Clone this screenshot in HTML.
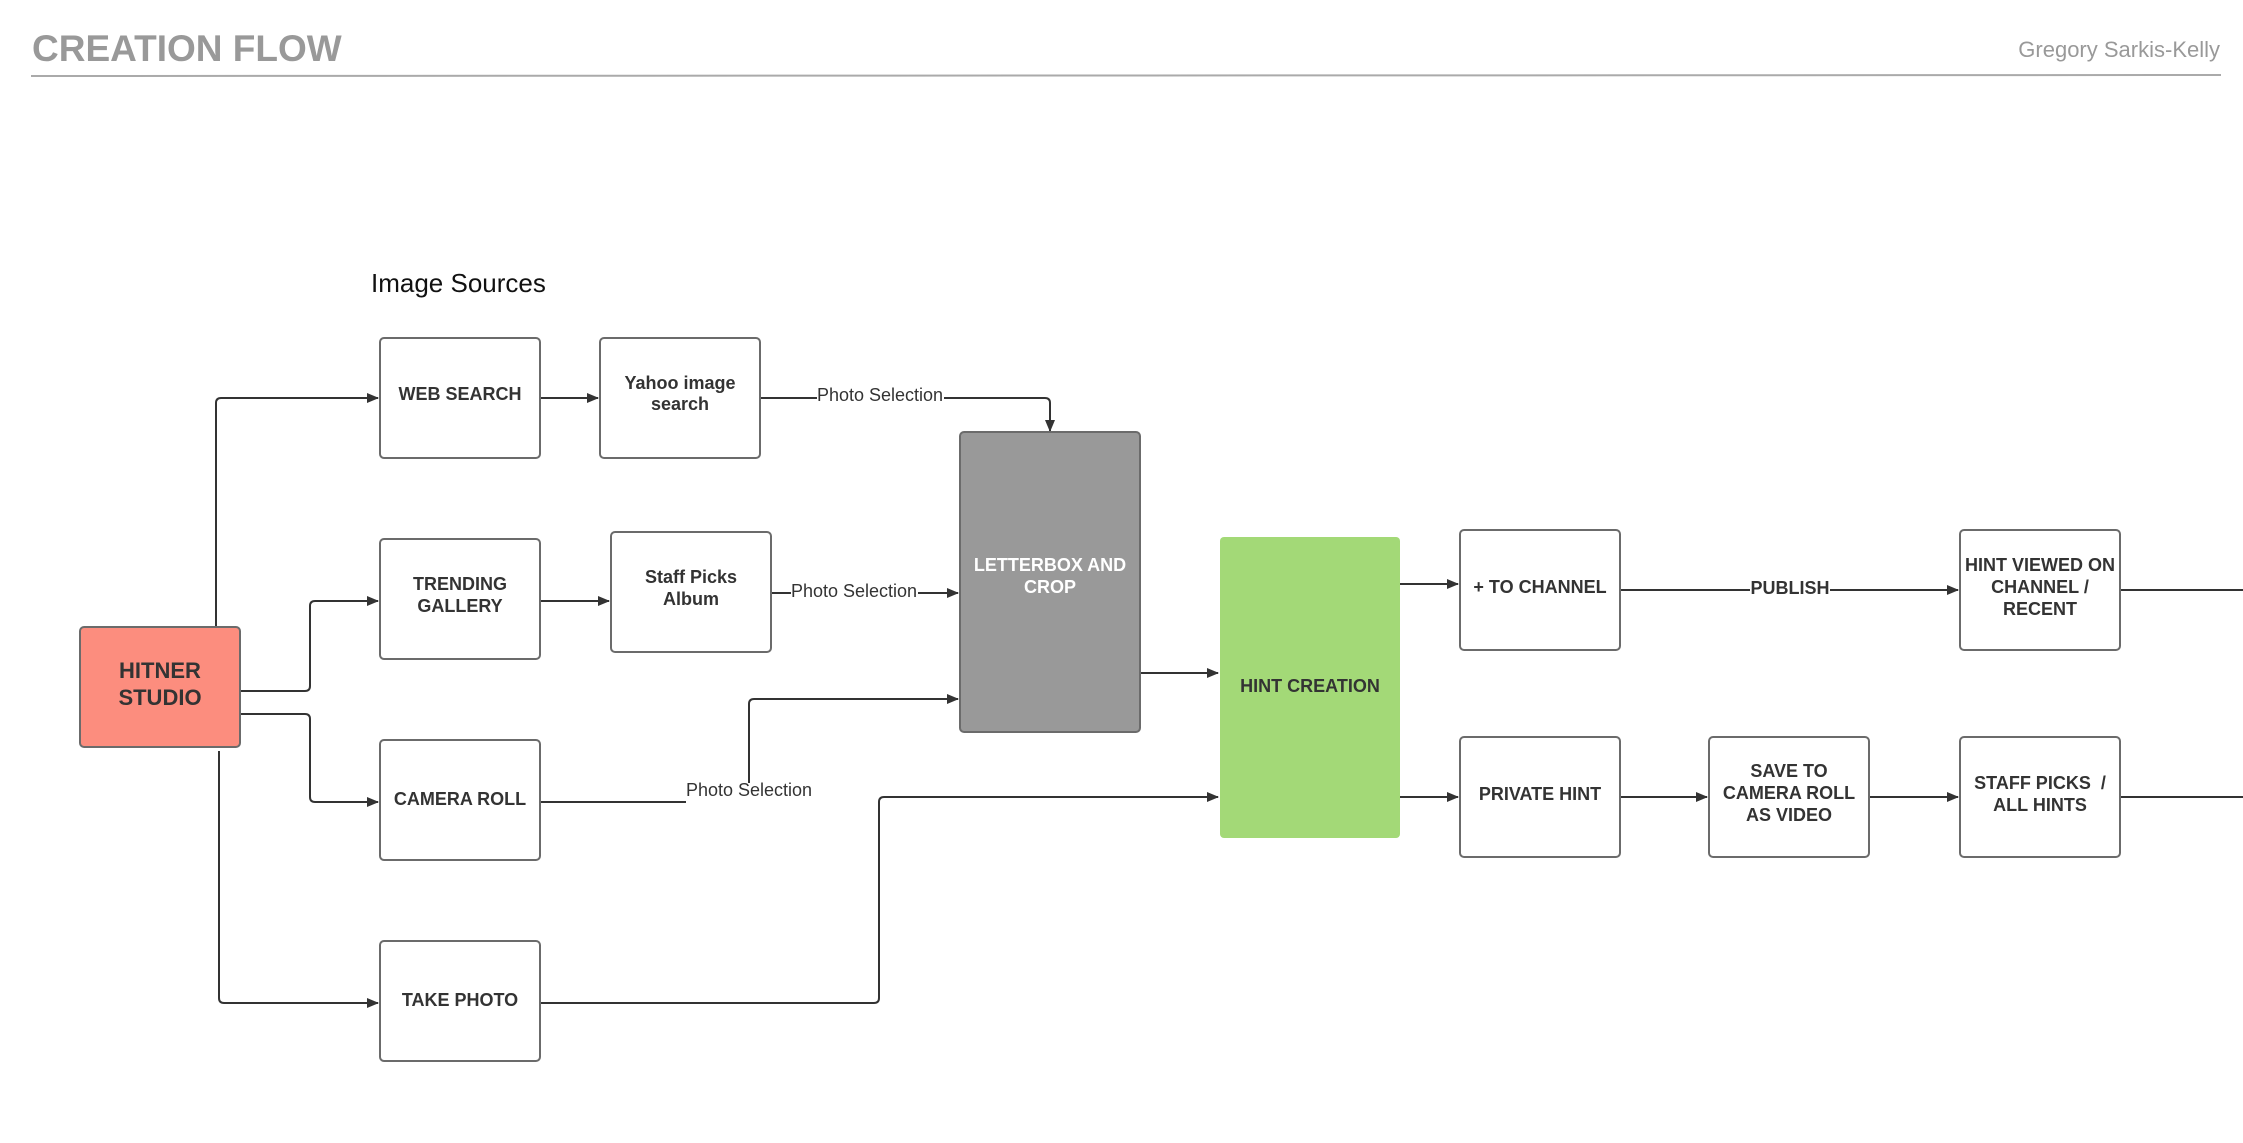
<!DOCTYPE html>
<html><head><meta charset="utf-8"><style>
html,body{margin:0;padding:0;background:#fff;}
svg{display:block;font-family:"Liberation Sans",Arial,sans-serif;}
.b{fill:#fff;stroke:#6b6b6b;stroke-width:2;}
.t{font-size:18px;font-weight:bold;fill:#333;text-anchor:middle;}
.l{fill:none;stroke:#333;stroke-width:2;}
.lb{font-size:18px;fill:#333;text-anchor:middle;}
</style></head><body>
<svg width="2243" height="1143" viewBox="0 0 2243 1143" xmlns="http://www.w3.org/2000/svg">
<defs><marker id="a" markerWidth="12" markerHeight="10" refX="11" refY="5" orient="auto" markerUnits="userSpaceOnUse"><path d="M0,0 L12,5 L0,10 z" fill="#333"/></marker></defs>
<text x="32" y="61" font-size="37" font-weight="bold" fill="#999">CREATION FLOW</text>
<text x="2220" y="57" font-size="22" fill="#999" text-anchor="end">Gregory Sarkis-Kelly</text>
<line x1="31" y1="76" x2="2221" y2="75" stroke="#aaa" stroke-width="2"/>
<text x="371" y="292" font-size="26" fill="#111">Image Sources</text>

<!-- connectors -->
<path class="l" d="M216,631 V403 Q216,398 221,398 H378" marker-end="url(#a)"/>
<path class="l" d="M540,398 H598" marker-end="url(#a)"/>
<path class="l" d="M760,398 H1045 Q1050,398 1050,403 V431" marker-end="url(#a)"/>
<path class="l" d="M240,691 H305 Q310,691 310,686 V606 Q310,601 315,601 H378" marker-end="url(#a)"/>
<path class="l" d="M540,601 H609" marker-end="url(#a)"/>
<path class="l" d="M771,593 H958" marker-end="url(#a)"/>
<path class="l" d="M240,714 H305 Q310,714 310,719 V797 Q310,802 315,802 H378" marker-end="url(#a)"/>
<path class="l" d="M540,802 H686"/>
<path class="l" d="M749,785 V704 Q749,699 754,699 H958" marker-end="url(#a)"/>
<path class="l" d="M219,751 V998 Q219,1003 224,1003 H378" marker-end="url(#a)"/>
<path class="l" d="M540,1003 H874 Q879,1003 879,998 V802 Q879,797 884,797 H1218" marker-end="url(#a)"/>
<path class="l" d="M1140,673 H1218" marker-end="url(#a)"/>
<path class="l" d="M1400,584 H1458" marker-end="url(#a)"/>
<path class="l" d="M1400,797 H1458" marker-end="url(#a)"/>
<path class="l" d="M1620,590 H1958" marker-end="url(#a)"/>
<path class="l" d="M1620,797 H1707" marker-end="url(#a)"/>
<path class="l" d="M1870,797 H1958" marker-end="url(#a)"/>
<path class="l" d="M2120,590 H2243"/>
<path class="l" d="M2120,797 H2243"/>

<!-- labels -->
<rect x="817" y="386" width="127" height="22" fill="#fff"/>
<text class="lb" x="880" y="401">Photo Selection</text>
<rect x="791" y="582" width="127" height="22" fill="#fff"/>
<text class="lb" x="854" y="597">Photo Selection</text>
<rect x="686" y="783" width="127" height="22" fill="#fff"/>
<text class="lb" x="749" y="796">Photo Selection</text>
<rect x="1750" y="579" width="80" height="22" fill="#fff"/>
<text class="t" x="1790" y="594">PUBLISH</text>

<!-- nodes -->
<rect x="80" y="627" width="160" height="120" rx="4" fill="#fc8d7e" stroke="#6b6b6b" stroke-width="2"/>
<text class="t" x="160" y="678" style="font-size:22px">HITNER</text>
<text class="t" x="160" y="705" style="font-size:22px">STUDIO</text>

<rect class="b" x="380" y="338" width="160" height="120" rx="4"/>
<text class="t" x="460" y="400">WEB SEARCH</text>
<rect class="b" x="600" y="338" width="160" height="120" rx="4"/>
<text class="t" x="680" y="389">Yahoo image</text><text class="t" x="680" y="410">search</text>

<rect class="b" x="380" y="539" width="160" height="120" rx="4"/>
<text class="t" x="460" y="590">TRENDING</text><text class="t" x="460" y="612">GALLERY</text>
<rect class="b" x="611" y="532" width="160" height="120" rx="4"/>
<text class="t" x="691" y="583">Staff Picks</text><text class="t" x="691" y="605">Album</text>

<rect class="b" x="380" y="740" width="160" height="120" rx="4"/>
<text class="t" x="460" y="805">CAMERA ROLL</text>
<rect class="b" x="380" y="941" width="160" height="120" rx="4"/>
<text class="t" x="460" y="1006">TAKE PHOTO</text>

<rect x="960" y="432" width="180" height="300" rx="4" fill="#999" stroke="#6b6b6b" stroke-width="2"/>
<text class="t" x="1050" y="571" fill="#fff" style="fill:#fff">LETTERBOX AND</text>
<text class="t" x="1050" y="593" style="fill:#fff">CROP</text>

<rect x="1220" y="537" width="180" height="301" rx="4" fill="#a3d977"/>
<text class="t" x="1310" y="692">HINT CREATION</text>

<rect class="b" x="1460" y="530" width="160" height="120" rx="4"/>
<text class="t" x="1540" y="593">+ TO CHANNEL</text>
<rect class="b" x="1460" y="737" width="160" height="120" rx="4"/>
<text class="t" x="1540" y="800">PRIVATE HINT</text>
<rect class="b" x="1709" y="737" width="160" height="120" rx="4"/>
<text class="t" x="1789" y="777">SAVE TO</text><text class="t" x="1789" y="799">CAMERA ROLL</text><text class="t" x="1789" y="821">AS VIDEO</text>
<rect class="b" x="1960" y="530" width="160" height="120" rx="4"/>
<text class="t" x="2040" y="571">HINT VIEWED ON</text><text class="t" x="2040" y="593">CHANNEL /</text><text class="t" x="2040" y="615">RECENT</text>
<rect class="b" x="1960" y="737" width="160" height="120" rx="4"/>
<text class="t" x="2040" y="789" xml:space="preserve">STAFF PICKS  /</text><text class="t" x="2040" y="811">ALL HINTS</text>
</svg>
</body></html>
